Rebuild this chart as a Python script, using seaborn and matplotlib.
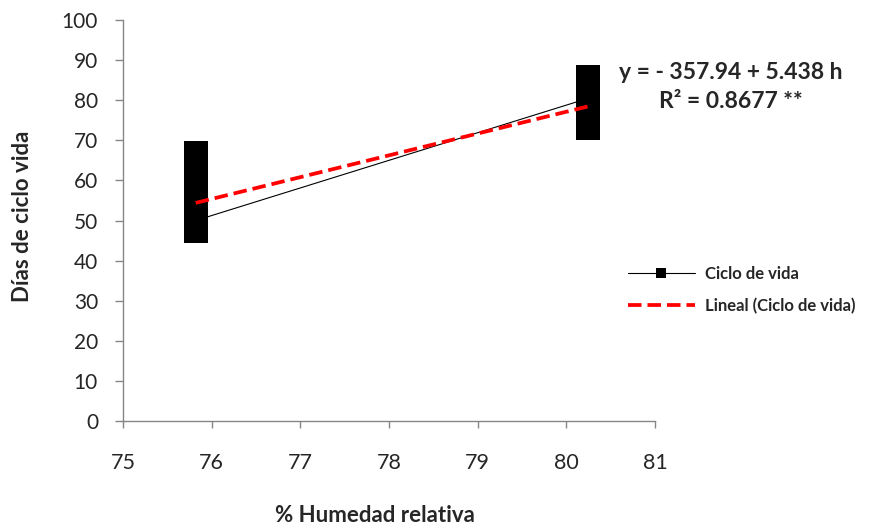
"""Ciclo de vida vs humedad relativa, con recta de tendencia lineal"""
import pandas as pd
import numpy as np
import matplotlib
matplotlib.use("Agg")
import matplotlib.pyplot as plt
from matplotlib.lines import Line2D
import seaborn as sns

# Datos (orden en que se registraron)
humedad_1 = 75.82
humedad_2 = 80.25
dias_1 = [47.3, 66.9, 62.0, 52.0, 49.0, 56.0, 47.5, 52.5, 60.8, 50.0]
dias_2 = [80.5, 85.9, 73.0, 77.0, 81.5, 75.0, 78.0, 77.0]

x_ticks = [75, 76, 77, 78, 79, 80, 81]
y_ticks = list(range(0, 101, 10))

ecuacion = "y = - 357.94 + 5.438 h"
r2_texto = "R² = 0.8677 **"

df = pd.DataFrame({
    "humedad": [humedad_1] * len(dias_1) + [humedad_2] * len(dias_2),
    "dias": dias_1 + dias_2,
})

sns.set_style("white")
plt.rcParams['font.family'] = ['Lato', 'DejaVu Sans']

fig = plt.figure(figsize=(8.85, 5.28), dpi=100)
ax = fig.add_axes([0.139, 0.2027, 0.601, 0.7593])

gris = '#868686'
texto = '#262626'

# Serie con marcadores cuadrados
sns.lineplot(data=df, x="humedad", y="dias", estimator=None, sort=False,
             color='black', linewidth=0.8, marker='s', markersize=16.6,
             markeredgewidth=0, ax=ax)

# Tendencia lineal
sns.regplot(data=df, x="humedad", y="dias", scatter=False, ci=None,
            line_kws=dict(color='#ff0000', linewidth=2.7, dashes=(3.6, 1.6)),
            ax=ax)

ax.set_xlim(75, 81)
ax.set_ylim(0, 100)
ax.set_xticks(x_ticks)
ax.set_yticks(y_ticks)
ax.set_xlabel("")
ax.set_ylabel("")

for side in ['top', 'right']:
    ax.spines[side].set_visible(False)
for side in ['left', 'bottom']:
    ax.spines[side].set_color(gris)
    ax.spines[side].set_linewidth(1.0)

ax.tick_params(axis='x', direction='out', length=5, width=1, color=gris,
               labelsize=15.5, labelcolor=texto, pad=18, bottom=True)
ax.tick_params(axis='y', direction='out', length=6, width=1, color=gris,
               labelsize=15, labelcolor=texto, pad=12, left=True)

fig.text(375 / 885, 1 - 516 / 528, "% Humedad relativa", ha='center',
         va='center', fontsize=16, fontweight='bold', color=texto)
fig.text(23 / 885, 1 - 216 / 528, "Días de ciclo vida", ha='center',
         va='center', rotation=90, fontsize=16, fontweight='bold', color=texto)

fig.text(731 / 885, 1 - 73 / 528, ecuacion, ha='center', va='center',
         fontsize=16.5, fontweight='bold', color=texto)
fig.text(731 / 885, 1 - 101 / 528, r2_texto, ha='center', va='center',
         fontsize=16.5, fontweight='bold', color=texto)

# Leyenda
handles = [
    Line2D([], [], color='black', linewidth=0.8, marker='s', markersize=7,
           markeredgewidth=0),
    Line2D([], [], color='#ff0000', linewidth=2.7, dashes=(3.6, 1.6)),
]
labels = ["Ciclo de vida", "Lineal (Ciclo de vida)"]
leg = fig.legend(handles, labels, loc='center left',
                 bbox_to_anchor=(628 / 885, 1 - 290 / 528), frameon=False,
                 handlelength=4.0, handletextpad=0.6, labelspacing=0.95,
                 borderpad=0, borderaxespad=0,
                 prop=dict(size=12, weight='bold'))
for t in leg.get_texts():
    t.set_color(texto)

plt.savefig("out.png", dpi=100)
plt.close()
